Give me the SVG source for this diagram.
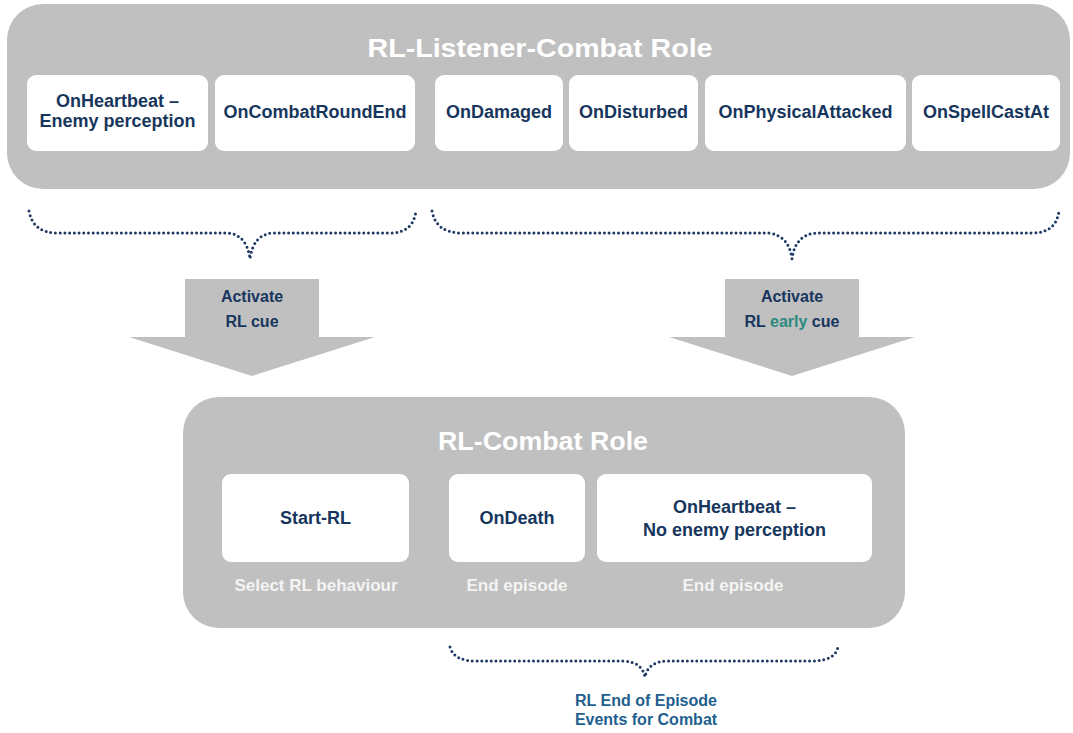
<svg xmlns="http://www.w3.org/2000/svg" width="1073" height="733" viewBox="0 0 1073 733">
<style>
.cont{fill:#c0c0c0}
.box{fill:#ffffff}
.title{font-family:"Liberation Sans",Arial,sans-serif;font-weight:bold;font-size:25px;fill:#ffffff;text-anchor:middle}
.lbl{font-family:"Liberation Sans",Arial,sans-serif;font-weight:bold;font-size:18px;fill:#17365d;text-anchor:middle}
.sub{font-family:"Liberation Sans",Arial,sans-serif;font-weight:bold;font-size:17px;fill:#f4f4f4;text-anchor:middle}
.arr{fill:#c0c0c0}
.atxt{font-family:"Liberation Sans",Arial,sans-serif;font-weight:bold;font-size:16px;fill:#17365d;text-anchor:middle}
.brace{fill:none;stroke:#1f3864;stroke-width:3;stroke-linecap:round;stroke-dasharray:0 4.7}
.foot{font-family:"Liberation Sans",Arial,sans-serif;font-weight:bold;font-size:16px;fill:#1f5f8f;text-anchor:middle}
</style>
<rect width="1073" height="733" fill="#ffffff"/>
<g id="listener-role">
<rect class="cont" x="7" y="4" width="1063" height="185" rx="36"/>
<text class="title" x="540" y="57" textLength="345" lengthAdjust="spacingAndGlyphs">RL-Listener-Combat Role</text>
</g>
<g id="onheartbeat-enemy">
<rect class="box" x="27" y="75" width="181" height="76" rx="9"/>
<text class="lbl" x="117.5" y="107">OnHeartbeat –</text>
<text class="lbl" x="117.5" y="127">Enemy perception</text>
</g>
<g id="oncombatroundend">
<rect class="box" x="215" y="75" width="200" height="76" rx="9"/>
<text class="lbl" x="315" y="118">OnCombatRoundEnd</text>
</g>
<g id="ondamaged">
<rect class="box" x="435" y="75" width="128" height="76" rx="9"/>
<text class="lbl" x="499" y="118">OnDamaged</text>
</g>
<g id="ondisturbed">
<rect class="box" x="569" y="75" width="129" height="76" rx="9"/>
<text class="lbl" x="633.5" y="118">OnDisturbed</text>
</g>
<g id="onphysicalattacked">
<rect class="box" x="705" y="75" width="201" height="76" rx="9"/>
<text class="lbl" x="805.5" y="118">OnPhysicalAttacked</text>
</g>
<g id="onspellcastat">
<rect class="box" x="912" y="75" width="148" height="76" rx="9"/>
<text class="lbl" x="986" y="118">OnSpellCastAt</text>
</g>
<g id="connectors">
<path class="brace" d="M29,211 Q33,233 58,233 L228,233 Q247,235 250,259 Q253,235 272,233 L390,233 Q413,233 416,211"/>
<path class="brace" d="M432,211 Q436,233 462,233 L768,233 Q789,235 792,259 Q795,235 816,233 L1032,233 Q1056,233 1059,211"/>
<path class="brace" d="M450,647 Q454,661 476,661 L624,661 Q642,662 645,677 Q648,662 666,661 L812,661 Q835,661 838,647"/>
</g>
<g id="arrow-rl-cue">
<polygon class="arr" points="185,279 319,279 319,337 375,337 252,376 129,337 185,337"/>
<text class="atxt" x="252" y="302">Activate</text>
<text class="atxt" x="252" y="327">RL cue</text>
</g>
<g id="arrow-rl-early-cue">
<polygon class="arr" points="725,279 859,279 859,337 915,337 792,376 669,337 725,337"/>
<text class="atxt" x="792" y="302">Activate</text>
<text class="atxt" x="792" y="327">RL <tspan fill="#2a8a80">early</tspan> cue</text>
</g>
<g id="combat-role">
<rect class="cont" x="183" y="397" width="722" height="231" rx="36"/>
<text class="title" x="543" y="450" textLength="210" lengthAdjust="spacingAndGlyphs">RL-Combat Role</text>
</g>
<g id="start-rl">
<rect class="box" x="222" y="474" width="187" height="88" rx="9"/>
<text class="lbl" x="315.5" y="524">Start-RL</text>
<text class="sub" x="316" y="591">Select RL behaviour</text>
</g>
<g id="ondeath">
<rect class="box" x="449" y="474" width="136" height="88" rx="9"/>
<text class="lbl" x="517" y="524">OnDeath</text>
<text class="sub" x="517" y="591">End episode</text>
</g>
<g id="onheartbeat-noenemy">
<rect class="box" x="597" y="474" width="275" height="88" rx="9"/>
<text class="lbl" x="734.5" y="513">OnHeartbeat –</text>
<text class="lbl" x="734.5" y="536">No enemy perception</text>
<text class="sub" x="733" y="591">End episode</text>
</g>
<g id="end-of-episode-label">
<text class="foot" x="646" y="706">RL End of Episode</text>
<text class="foot" x="646" y="725">Events for Combat</text>
</g>
</svg>
